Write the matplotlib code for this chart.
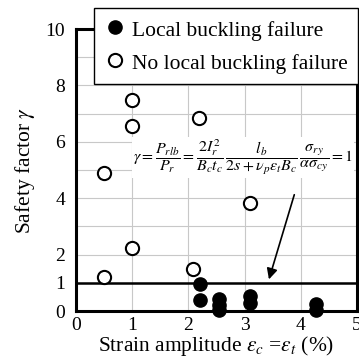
import numpy as np
import matplotlib
matplotlib.use('Agg')
import matplotlib.pyplot as plt
from matplotlib.lines import Line2D

plt.rcParams['font.family'] = ['Liberation Serif', 'DejaVu Serif']
plt.rcParams['mathtext.fontset'] = 'stix'

# failure cases (filled)
fail_x = [2.2, 2.2, 2.55, 2.55, 2.55, 3.1, 3.1, 4.28, 4.28]
fail_y = [0.97, 0.4, 0.42, 0.22, 0.05, 0.55, 0.3, 0.25, 0.05]
# no failure cases (open)
ok_x = [0.5, 0.5, 1.0, 1.0, 1.0, 2.18, 2.08, 3.1]
ok_y = [4.9, 1.2, 7.5, 6.55, 2.23, 6.85, 1.48, 3.83]

xticks = [0, 1, 2, 3, 4, 5]
yticks = [0, 1, 2, 4, 6, 8, 10]

fig = plt.figure(figsize=(3.59, 3.63), dpi=100)
ax = fig.add_axes([0.212, 0.143, 0.782, 0.777])

ax.set_xlim(0, 5)
ax.set_ylim(0, 10)
ax.set_xticks(xticks)
ax.set_yticks(yticks)
ax.set_yticks(np.arange(0, 11, 1), minor=True)
ax.tick_params(which='both', length=0, labelsize=14)
ax.tick_params(axis='y', pad=8)
ax.tick_params(axis='x', pad=4)
ax.grid(True, which='both', color='#c8c8c8', lw=0.8)
ax.set_axisbelow(True)
for s in ax.spines.values():
    s.set_linewidth(2.2)

ax.axhline(1, color='k', lw=1.8, zorder=2)

ax.plot(fail_x, fail_y, 'o', ms=9.5, color='k', mec='k', clip_on=False, zorder=3)
ax.plot(ok_x, ok_y, 'o', ms=9.5, mfc='white', mec='k', mew=1.5, zorder=3)

ax.text(2.97, 5.45,
        r'$\gamma=\dfrac{P_{rlb}}{P_r}=\dfrac{2I_r^2}{B_ct_c}\,\dfrac{l_b}{2s+\nu_p\varepsilon_tB_c}\,\dfrac{\sigma_{ry}}{\alpha\sigma_{cy}}=1$',
        fontsize=11.5, ha='center', va='center',
        bbox=dict(facecolor='white', edgecolor='none', pad=0.5))

ax.annotate('', xy=(3.42, 1.03), xytext=(3.9, 4.22),
            arrowprops=dict(arrowstyle='-|>', color='k', lw=1.2,
                            mutation_scale=16))

ax.set_xlabel(r'Strain amplitude $\varepsilon_c$ =$\varepsilon_t$ (%)', fontsize=15.5, labelpad=0)
ax.set_ylabel(r'Safety factor $\gamma$', fontsize=15.5, labelpad=6)

handles = [Line2D([], [], marker='o', ls='none', ms=9.5, color='k'),
           Line2D([], [], marker='o', ls='none', ms=9.5, mfc='white', mec='k', mew=1.5)]
leg = fig.legend(handles, ['Local buckling failure', 'No local buckling failure'],
                 loc='upper left', bbox_to_anchor=(0.263, 0.978), fontsize=15.5,
                 frameon=True, fancybox=False, framealpha=1, edgecolor='k',
                 handletextpad=0.3, borderpad=0.45, labelspacing=0.45, handlelength=1.0,
                 handleheight=1.2, borderaxespad=0)
leg.get_frame().set_linewidth(1.0)

fig.savefig('out.png', dpi=100)
